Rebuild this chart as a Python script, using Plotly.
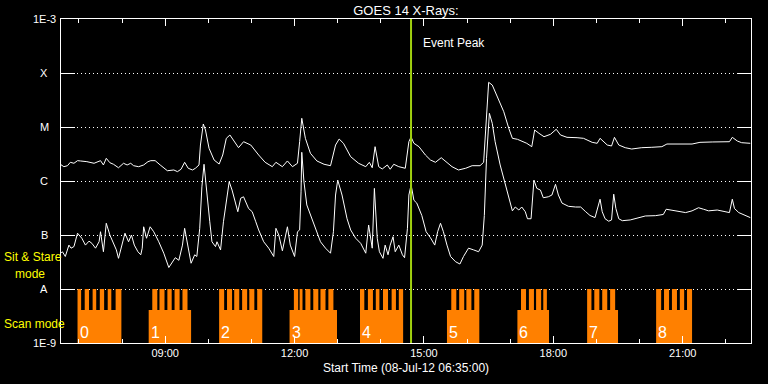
import numpy as np
import pandas as pd
import plotly.graph_objects as go

DAY = "2012-07-08 "

# ---------------- data ----------------
long_times = ["06:35","06:39","06:44","06:48","06:53","06:58","07:02","07:11","07:21","07:25","07:30","07:34","07:38","07:43","07:48","07:55","08:02","08:07","08:12","08:16","08:23","08:30","08:36","08:40","08:46","08:53","09:03","09:12","09:17","09:22","09:27","09:32","09:38","09:42","09:47","09:49","09:53","09:56","10:01","10:08","10:15","10:20","10:25","10:30","10:35","10:42","10:49","10:59","11:10","11:19","11:29","11:34","11:43","11:50","11:57","12:04","12:07","12:10","12:15","12:22","12:31","12:41","12:50","12:57","13:02","13:08","13:18","13:29","13:39","13:44","13:48","13:52","13:57","14:02","14:09","14:13","14:18","14:25","14:34","14:39","14:42","14:46","14:53","15:02","15:09","15:16","15:24","15:32","15:39","15:48","15:58","16:07","16:18","16:23","16:27","16:30","16:35","16:43","16:51","16:58","17:03","17:10","17:16","17:23","17:30","17:34","17:40","17:47","17:56","18:04","18:10","18:19","18:33","18:42","18:54","19:01","19:05","19:10","19:15","19:21","19:25","19:31","19:40","19:49","20:03","20:17","20:31","20:38","20:50","20:59","21:13","21:24","21:41","21:55","22:05","22:09","22:16","22:22","22:34"]
long_flux = [2.0e-6,1.84e-6,1.92e-6,2.22e-6,2.13e-6,2.38e-6,2.35e-6,2.28e-6,2.13e-6,2.22e-6,2.38e-6,1.98e-6,2.63e-6,2.18e-6,2.04e-6,1.76e-6,2.13e-6,1.98e-6,2.13e-6,1.92e-6,1.84e-6,1.98e-6,2.28e-6,2.38e-6,2.38e-6,1.98e-6,1.55e-6,1.60e-6,1.49e-6,1.65e-6,2.22e-6,1.72e-6,1.60e-6,1.72e-6,1.98e-6,4.64e-6,1.137e-5,8.80e-6,4.03e-6,2.45e-6,2.06e-6,3.03e-6,6.17e-6,7.11e-6,5.74e-6,4.14e-6,5.34e-6,4.64e-6,3.03e-6,2.22e-6,1.84e-6,2.22e-6,1.84e-6,2.35e-6,1.84e-6,2.13e-6,5.34e-6,1.45e-5,6.17e-6,3.26e-6,2.35e-6,2.04e-6,1.92e-6,4.64e-6,5.99e-6,4.99e-6,2.82e-6,2.13e-6,1.84e-6,2.22e-6,1.76e-6,4.32e-6,1.84e-6,1.67e-6,1.98e-6,1.65e-6,2.04e-6,1.84e-6,1.72e-6,5.34e-6,6.53e-6,4.99e-6,4.32e-6,3.03e-6,2.45e-6,2.22e-6,2.70e-6,2.22e-6,1.84e-6,1.60e-6,1.72e-6,1.92e-6,1.92e-6,2.22e-6,1.67e-5,6.72e-5,5.99e-5,3.40e-5,1.92e-5,9.46e-6,6.17e-6,5.92e-6,5.50e-6,4.99e-6,4.32e-6,8.80e-6,7.64e-6,6.61e-6,7.32e-6,9.07e-6,7.11e-6,6.44e-6,6.34e-6,6.17e-6,5.20e-6,4.99e-6,6.17e-6,5.34e-6,4.64e-6,4.45e-6,6.44e-6,4.64e-6,4.14e-6,3.91e-6,4.14e-6,4.21e-6,4.32e-6,4.84e-6,4.78e-6,4.84e-6,4.84e-6,5.20e-6,5.28e-6,5.34e-6,5.34e-6,6.44e-6,5.50e-6,5.12e-6,4.99e-6]

short_times = ["06:35","06:37","06:41","06:46","06:49","06:53","06:58","07:04","07:09","07:14","07:18","07:23","07:28","07:30","07:34","07:38","07:43","07:48","07:52","07:55","08:00","08:04","08:09","08:13","08:17","08:22","08:26","08:28","08:30","08:34","08:39","08:44","08:51","08:58","09:05","09:10","09:14","09:19","09:24","09:27","09:32","09:36","09:41","09:44","09:48","09:51","09:54","09:57","10:02","10:05","10:10","10:12","10:17","10:21","10:26","10:29","10:33","10:38","10:41","10:45","10:49","10:56","11:01","11:06","11:10","11:17","11:24","11:31","11:34","11:38","11:43","11:50","11:54","12:00","12:04","12:07","12:09","12:10","12:13","12:17","12:27","12:36","12:43","12:50","12:54","12:57","13:00","13:06","13:13","13:18","13:25","13:32","13:39","13:43","13:48","13:51","13:55","13:58","14:03","14:06","14:10","14:13","14:17","14:20","14:25","14:30","14:33","14:37","14:39","14:42","14:43","14:46","14:50","14:57","15:03","15:09","15:15","15:19","15:23","15:27","15:32","15:37","15:44","15:50","15:55","16:02","16:09","16:16","16:21","16:24","16:27","16:31","16:35","16:39","16:46","16:56","17:03","17:07","17:12","17:16","17:21","17:24","17:29","17:33","17:37","17:42","17:46","17:53","17:58","18:03","18:07","18:12","18:21","18:31","18:38","18:45","18:51","18:58","19:02","19:05","19:08","19:12","19:17","19:21","19:24","19:27","19:31","19:36","19:47","19:59","20:08","20:22","20:33","20:37","20:45","20:54","21:04","21:13","21:22","21:29","21:36","21:48","21:57","22:05","22:09","22:12","22:18","22:25","22:34"]
short_flux = [4.6e-8,4.9e-8,4.0e-8,6.5e-8,5.7e-8,6.1e-8,1.08e-7,8.7e-8,6.5e-8,7.7e-8,7.0e-8,5.7e-8,7.5e-8,1.15e-7,4.9e-8,1.65e-7,1.0e-7,7.0e-8,5.3e-8,3.7e-8,6.5e-8,1.08e-7,7.5e-8,1.0e-7,6.5e-8,4.9e-8,4.3e-8,5.7e-8,1.42e-7,8.7e-8,1.42e-7,1.15e-7,7.5e-8,4.6e-8,2.5e-8,3.2e-8,3.8e-8,3.4e-8,6.5e-8,1.33e-7,5.3e-8,3.0e-8,4.3e-8,4.0e-8,1.33e-7,7.8e-7,2.04e-6,7.3e-7,1.76e-7,7.5e-8,6.1e-8,7.5e-8,5.3e-8,1.76e-7,5.5e-7,9.7e-7,6.8e-7,3.6e-7,2.7e-7,4.8e-7,5.1e-7,3.1e-7,2.7e-7,1.76e-7,1.24e-7,7.5e-8,5.7e-8,4.0e-8,1.33e-7,1.0e-7,5.1e-8,1.42e-7,6.5e-8,4.0e-8,1.15e-7,1.24e-7,6.3e-7,3.4e-6,9.7e-7,3.6e-7,1.53e-7,7.5e-8,5.7e-8,4.6e-8,1.15e-7,5.5e-7,1.04e-6,5.5e-7,2.0e-7,1.24e-7,8.7e-8,7.0e-8,4.6e-8,1.53e-7,5.7e-8,7.3e-7,8.7e-8,4.9e-8,3.7e-8,6.5e-8,4.3e-8,6.5e-8,9.3e-8,4.9e-8,6.5e-8,4.3e-8,3.8e-8,1.33e-7,5.5e-7,8.4e-7,7.3e-7,4.4e-7,3.9e-7,2.3e-7,1.15e-7,8.9e-8,6.5e-8,1.15e-7,1.65e-7,1.15e-7,6.5e-8,4.0e-8,3.2e-8,2.9e-8,4.0e-8,5.7e-8,5.3e-8,4.9e-8,6.5e-8,2.3e-7,2.63e-6,1.79e-5,1.17e-5,5.34e-6,1.98e-6,6.3e-7,2.8e-7,3.3e-7,2.9e-7,3.3e-7,2.7e-7,2.0e-7,2.0e-7,1.04e-6,7.3e-7,6.8e-7,4.9e-7,5.1e-7,5.5e-7,8.7e-7,5.5e-7,3.9e-7,3.4e-7,3.3e-7,3.3e-7,2.7e-7,2.3e-7,2.1e-7,3.1e-7,4.6e-7,2.7e-7,2.0e-7,1.8e-7,1.9e-7,5.7e-7,3.1e-7,2.0e-7,1.84e-7,1.9e-7,2.1e-7,2.25e-7,2.28e-7,2.4e-7,3.0e-7,2.9e-7,2.8e-7,2.6e-7,2.8e-7,3.2e-7,3.0e-7,2.8e-7,2.9e-7,2.7e-7,2.6e-7,4.6e-7,3.1e-7,2.6e-7,2.4e-7,2.1e-7]

# scan-mode blocks (lower step) and their exposure teeth
scan_labels = ["0","1","2","3","4","5","6","7","8"]
scan_start = ["06:58","08:37","10:15","11:53","13:31","15:32","17:10","18:47","20:23"]
scan_end   = ["07:59","09:36","11:15","12:59","14:31","16:17","17:54","19:30","21:13"]
scan_teeth = [
    [("06:58","07:03"),("07:08","07:14"),("07:19","07:24"),("07:29","07:35"),("07:40","07:45"),("07:51","07:59")],
    [("08:42","08:49"),("08:52","08:59"),("09:03","09:09"),("09:13","09:20"),("09:24","09:31")],
    [("10:15","10:22"),("10:26","10:33"),("10:36","10:43"),("10:47","10:54"),("10:57","11:04"),("11:08","11:15")],
    [("11:59","12:05"),("12:07","12:11"),("12:15","12:22"),("12:26","12:33"),("12:36","12:43"),("12:47","12:54")],
    [("13:31","13:37"),("13:42","13:49"),("13:53","13:58"),("14:03","14:10"),("14:15","14:21"),("14:25","14:31")],
    [("15:38","15:45"),("15:49","15:56"),("15:59","16:06"),("16:10","16:17")],
    [("17:15","17:22"),("17:26","17:33"),("17:36","17:43"),("17:46","17:51")],
    [("18:47","18:53"),("18:57","19:04"),("19:08","19:15"),("19:19","19:26")],
    [("20:23","20:30"),("20:34","20:41"),("20:45","20:52"),("20:56","21:02"),("21:06","21:13")],
]
scan_floor = 1e-9
scan_step = 4.1e-9
scan_top = 1e-8

event_peak = "14:42"
x_start, x_end = "06:35", "22:35"

level_vals = [1e-9, 1e-8, 1e-7, 1e-6, 1e-5, 1e-4, 1e-3]
level_names = ["1E-9", "A", "B", "C", "M", "X", "1E-3"]

# ---------------- figure ----------------
def ts(t):
    return pd.Timestamp(DAY + t)

ORANGE = "#ff8000"
GREEN = "#a0d010"
YELLOW = "#ffff00"
FONT = "Liberation Sans"

fig = go.Figure()

xs, ys = [], []
for s, e in zip(scan_start, scan_end):
    xs += [ts(s), ts(e), ts(e), ts(s), ts(s), None]
    ys += [scan_floor, scan_floor, scan_step, scan_step, scan_floor, None]
for teeth in scan_teeth:
    for s, e in teeth:
        xs += [ts(s), ts(e), ts(e), ts(s), ts(s), None]
        ys += [scan_floor, scan_floor, scan_top, scan_top, scan_floor, None]
fig.add_trace(go.Scatter(x=xs, y=ys, mode="lines", fill="toself", fillcolor=ORANGE,
                         line=dict(width=0, color=ORANGE), hoverinfo="skip", showlegend=False))

fig.add_trace(go.Scatter(x=[ts(t) for t in long_times], y=long_flux, mode="lines",
                         line=dict(color="white", width=1), showlegend=False))
fig.add_trace(go.Scatter(x=[ts(t) for t in short_times], y=short_flux, mode="lines",
                         line=dict(color="white", width=1), showlegend=False))

fig.add_shape(type="line", xref="x", yref="paper", x0=ts(event_peak), x1=ts(event_peak),
              y0=0, y1=1, line=dict(color=GREEN, width=2))

anns = []
anns.append(dict(x=ts(event_peak), y=0.926, xref="x", yref="paper", xanchor="left", yanchor="middle",
                 xshift=10, text="Event Peak", showarrow=False, font=dict(color="white", size=12, family=FONT)))
for lab, s in zip(scan_labels, scan_start):
    anns.append(dict(x=ts(s), y=0.031, xref="x", yref="paper", xanchor="left", yanchor="middle",
                     xshift=0, text=lab, showarrow=False, font=dict(color="white", size=16, family=FONT)))
for v, name in zip(level_vals, level_names):
    anns.append(dict(x=-0.0246, y=np.log10(v), xref="paper", yref="y", xanchor="center", yanchor="middle",
                     text=name, showarrow=False, font=dict(color="white", size=11, family=FONT)))
anns.append(dict(x=-0.0855, y=0.264, xref="paper", yref="paper", xanchor="left", yanchor="middle",
                 text="Sit & Stare", showarrow=False, font=dict(color=YELLOW, size=12, family=FONT)))
anns.append(dict(x=-0.0696, y=0.212, xref="paper", yref="paper", xanchor="left", yanchor="middle",
                 text="mode", showarrow=False, font=dict(color=YELLOW, size=12, family=FONT)))
anns.append(dict(x=-0.0855, y=0.0586, xref="paper", yref="paper", xanchor="left", yanchor="middle",
                 text="Scan mode", showarrow=False, font=dict(color=YELLOW, size=12, family=FONT)))
anns.append(dict(x=0.5, y=-0.077, xref="paper", yref="paper", xanchor="center", yanchor="middle",
                 text="Start Time (08-Jul-12 06:35:00)", showarrow=False,
                 font=dict(color="white", size=12, family=FONT)))

fig.update_layout(
    width=768, height=384,
    paper_bgcolor="black", plot_bgcolor="black",
    margin=dict(l=61, r=17, t=19, b=41),
    font=dict(family=FONT, color="white", size=11),
    title=dict(text="GOES 14 X-Rays:", x=0.5, xref="paper", y=1 - 10 / 384, yref="container",
               xanchor="center", yanchor="middle", font=dict(size=13, color="white", family=FONT)),
    annotations=anns,
    showlegend=False,
)
fig.update_xaxes(
    type="date", range=[ts(x_start), ts(x_end)],
    tick0=ts("00:00"), dtick=3 * 3600 * 1000, tickformat="%H:%M",
    ticks="inside", ticklen=7, tickcolor="white", tickwidth=1,
    minor=dict(dtick=3600 * 1000, ticks="inside", ticklen=4, tickcolor="white", tickwidth=1),
    showline=True, linecolor="white", linewidth=1, mirror="allticks",
    showgrid=False, zeroline=False,
    tickfont=dict(size=11, color="white", family=FONT),
)
fig.update_yaxes(
    type="log", range=[-9, -3],
    tickvals=level_vals, showticklabels=False,
    ticks="inside", ticklen=14, tickcolor="white", tickwidth=1,
    showline=True, linecolor="white", linewidth=1, mirror="allticks",
    showgrid=True, gridcolor="white", gridwidth=1, griddash="1px,3px",
    zeroline=False,
)

fig.write_html("out.html")
